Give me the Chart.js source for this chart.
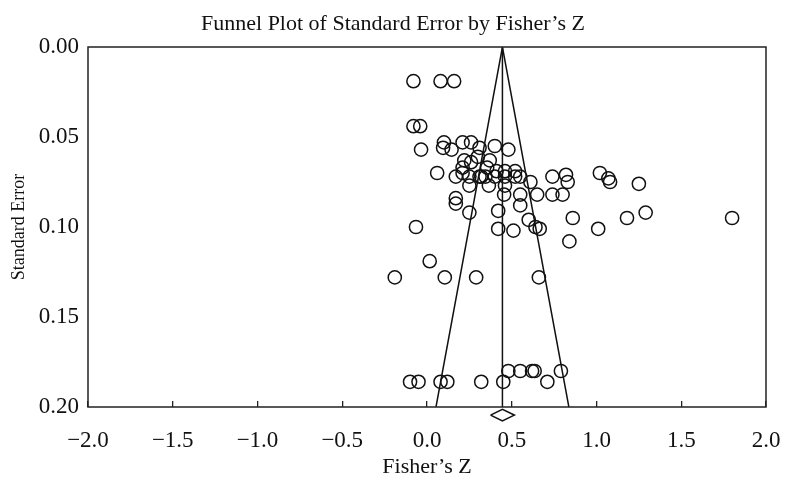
<!DOCTYPE html>
<html>
<head>
<meta charset="utf-8">
<script src="https://cdn.jsdelivr.net/npm/chart.js@4"></script>
<style>
  html, body { margin: 0; padding: 0; background: #fff; }
  #wrap { width: 786px; height: 484px; }
</style>
</head>
<body>
<div id="wrap"><canvas id="funnel"></canvas></div>
<script>
// study effects (Fisher's Z) and their standard errors
const fisherZ = [
  -0.08, 0.08, 0.16, -0.08, -0.04, 0.10, 0.21, 0.26, -0.035, 0.095,
  0.145, 0.31, 0.40, 0.48, 0.22, 0.26, 0.30, 0.37, 0.21, 0.355,
  0.06, 0.21, 0.41, 0.46, 0.52, 0.82, 1.02, 0.17, 0.25, 0.31,
  0.32, 0.345, 0.40, 0.46, 0.52, 0.55, 0.74, 1.07, 0.61, 0.83,
  1.08, 1.25, 0.25, 0.365, 0.46, 0.455, 0.55, 0.65, 0.74, 0.80,
  0.17, 0.17, 0.55, 0.42, 0.25, 1.29, 0.60, 0.86, 1.18, 1.80,
  -0.065, 0.42, 0.64, 0.665, 1.01, 0.51, 0.84, 0.016, -0.19, 0.105,
  0.29, 0.66, 0.48, 0.55, 0.62, 0.635, 0.79, -0.10, -0.05, 0.08,
  0.12, 0.32, 0.45, 0.71
];
const stdErr = [
  0.019, 0.019, 0.019, 0.044, 0.044, 0.053, 0.053, 0.053, 0.057, 0.056,
  0.057, 0.056, 0.055, 0.057, 0.063, 0.064, 0.061, 0.063, 0.067, 0.067,
  0.070, 0.070, 0.069, 0.069, 0.069, 0.071, 0.070, 0.072, 0.072, 0.072,
  0.072, 0.072, 0.072, 0.072, 0.072, 0.072, 0.072, 0.073, 0.075, 0.075,
  0.075, 0.076, 0.077, 0.077, 0.077, 0.082, 0.082, 0.082, 0.082, 0.082,
  0.084, 0.087, 0.088, 0.091, 0.092, 0.092, 0.096, 0.095, 0.095, 0.095,
  0.100, 0.101, 0.100, 0.101, 0.101, 0.102, 0.108, 0.119, 0.128, 0.128,
  0.128, 0.128, 0.180, 0.180, 0.180, 0.180, 0.180, 0.186, 0.186, 0.186,
  0.186, 0.186, 0.186, 0.186
];

// summary effect and funnel (95% limits at SE = 0.20)
const summaryZ = 0.445;
const funnelX = [0.053, 0.445, 0.837];
const funnelSE = [0.20, 0.00, 0.20];

// diamond under the axis
const diamondX = [0.375, 0.445, 0.515, 0.445, 0.375];
const diamondY = [0.2045, 0.2013, 0.2045, 0.2077, 0.2045];

const xTicks = [-2.0, -1.5, -1.0, -0.5, 0.0, 0.5, 1.0, 1.5, 2.0];
const yTicks = [0.00, 0.05, 0.10, 0.15, 0.20];

const serif = '"Liberation Serif", "DejaVu Serif", serif';

const toPts = (xs, ys) => xs.map((x, i) => ({ x: x, y: ys[i] }));

// box round the plot area
const frame = {
  id: 'frame',
  afterDatasetsDraw(chart) {
    const a = chart.chartArea;
    const ctx = chart.ctx;
    ctx.save();
    ctx.strokeStyle = '#222';
    ctx.lineWidth = 1.5;
    ctx.strokeRect(a.left, a.top, a.right - a.left, a.bottom - a.top);
    ctx.restore();
  }
};

new Chart(document.getElementById('funnel'), {
  type: 'scatter',
  data: {
    datasets: [
      {
        data: toPts(funnelX, funnelSE),
        showLine: true,
        borderColor: '#111',
        borderWidth: 1.5,
        pointRadius: 0,
        tension: 0
      },
      {
        data: [{ x: summaryZ, y: 0 }, { x: summaryZ, y: 0.2 }],
        showLine: true,
        borderColor: '#111',
        borderWidth: 1.5,
        pointRadius: 0
      },
      {
        data: toPts(diamondX, diamondY),
        showLine: true,
        borderColor: '#111',
        borderWidth: 1.6,
        pointRadius: 0,
        clip: false
      },
      {
        data: toPts(fisherZ, stdErr),
        pointStyle: 'circle',
        pointRadius: 6.6,
        pointBorderWidth: 1.5,
        borderColor: '#111',
        backgroundColor: 'rgba(0,0,0,0)'
      }
    ]
  },
  options: {
    responsive: true,
    maintainAspectRatio: false,
    animation: false,
    events: [],
    layout: { padding: 0 },
    plugins: {
      legend: { display: false },
      tooltip: { enabled: false },
      title: {
        display: true,
        text: 'Funnel Plot of Standard Error by Fisher\u2019s Z',
        color: '#111',
        font: { family: serif, size: 22, weight: 'normal' },
        padding: { top: 11, bottom: 9.6 }
      }
    },
    scales: {
      x: {
        type: 'linear',
        min: -2,
        max: 2,
        // labels sit low; set the side room by hand instead of chart.js' guess
        afterFit: s => { s.height = 77; s.paddingLeft = 0; s.paddingRight = 20; },
        afterBuildTicks: s => { s.ticks = xTicks.map(v => ({ value: v })); },
        ticks: {
          color: '#111',
          padding: 26,
          maxRotation: 0,
          font: { family: serif, size: 23 },
          callback: v => (v < 0 ? '\u2212' : '') + Math.abs(v).toFixed(1)
        },
        grid: {
          display: true,
          drawOnChartArea: false,
          drawTicks: true,
          tickLength: -6,
          color: '#222',
          lineWidth: 1.3
        },
        border: { display: false },
        title: {
          display: true,
          text: 'Fisher\u2019s Z',
          color: '#111',
          font: { family: serif, size: 22 },
          padding: { top: 0, bottom: 4 }
        }
      },
      y: {
        type: 'linear',
        reverse: true,
        min: 0,
        max: 0.2,
        afterFit: s => { s.width = 88; },
        afterBuildTicks: s => { s.ticks = yTicks.map(v => ({ value: v })); },
        ticks: {
          color: '#111',
          padding: 1,
          font: { family: serif, size: 23 },
          callback: v => v.toFixed(2)
        },
        grid: { display: false },
        border: { display: false },
        title: {
          display: true,
          text: 'Standard Error',
          color: '#111',
          font: { family: serif, size: 18 },
          padding: { top: 8, bottom: 0 }
        }
      }
    }
  },
  plugins: [frame]
});
</script>
</body>
</html>
